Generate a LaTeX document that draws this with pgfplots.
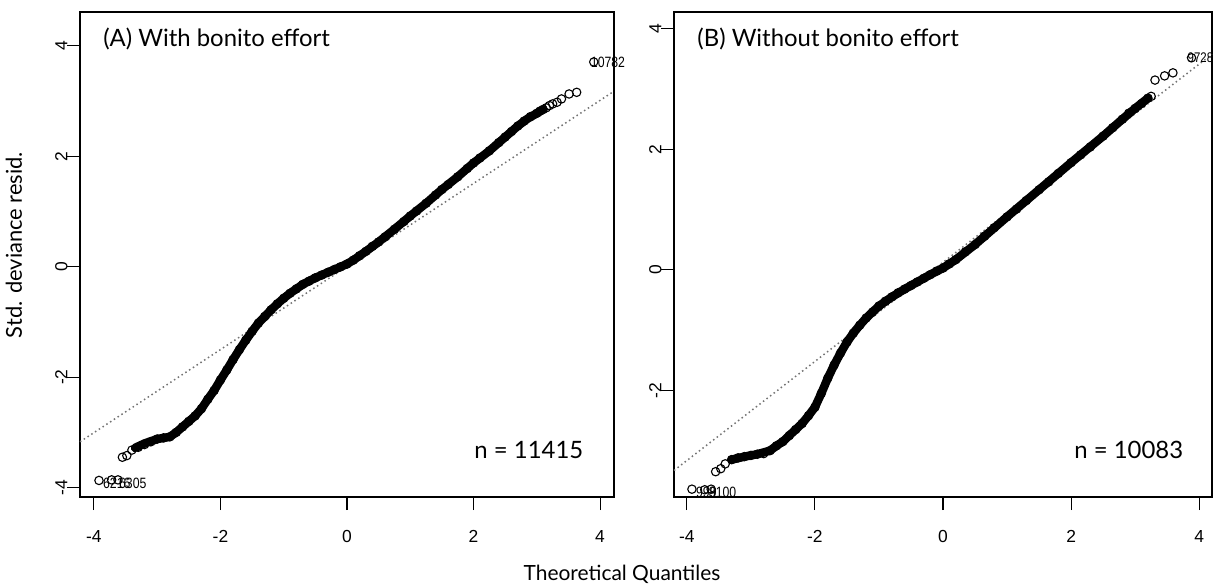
\documentclass[border=0pt]{standalone}
\usepackage{fontspec}
\setmainfont{Lato}
\newfontfamily\arialfont{Liberation Sans}
\newfontfamily\narrowfont[FakeStretch=0.82]{Liberation Sans}
\usepackage{pgfplots}
\pgfplotsset{compat=1.18}

\pgfplotsset{
  qqpanel/.style={
    scale only axis, width=534bp, height=485bp, anchor=south west,
    tick pos=left, tick align=outside, major tick length=13bp,
    axis line style={line width=1.3bp},
    tick style={line width=1.1bp, black},
    xtick={-4,-2,0,2,4}, xticklabels={-4,-2,0,2,4},
    ticklabel style={font=\arialfont\fontsize{17.5}{20}\selectfont},
    xticklabel shift=17bp,
    yticklabel style={rotate=90, anchor=south},
    yticklabel shift=-4bp,
    clip=false,
  },
  band/.style={black, line width=8.5bp, line join=round, line cap=round, no marks},
  pts/.style={only marks, mark=o, mark size=4.2bp, mark options={line width=1.1bp, black}},
  refline/.style={black!55, line width=1.5bp, dash pattern=on 1.5bp off 3bp, no marks},
}
\tikzset{
  idlab/.style={anchor=west, inner sep=0pt, font=\narrowfont\fontsize{15}{17}\selectfont},
  paneltxt/.style={font=\fontsize{24}{27}\selectfont},
}

\begin{document}
\begin{tikzpicture}
\useasboundingbox (0,0) rectangle (1215bp,588bp);

% (A) with bonito effort
\begin{axis}[qqpanel, at={(80bp,91bp)},
  xmin=-4.22, xmax=4.22, ymin=-4.17, ymax=4.615,
  ytick={-4,-2,0,2,4}, yticklabels={-4,-2,0,2,4}]
\addplot[refline] coordinates {(-4.22,-3.17) (4.22,3.18)};
\addplot[band] coordinates {
 (-3.35,-3.28) (-3.2,-3.2) (-3.0,-3.12) (-2.8,-3.08) (-2.7,-3.0) (-2.6,-2.9)
 (-2.5,-2.8) (-2.4,-2.7) (-2.3,-2.57) (-2.2,-2.4) (-2.1,-2.24) (-2.0,-2.05)
 (-1.9,-1.87) (-1.8,-1.68) (-1.7,-1.5) (-1.6,-1.33) (-1.5,-1.17) (-1.4,-1.02)
 (-1.3,-0.9) (-1.2,-0.78) (-1.1,-0.67) (-1.0,-0.57) (-0.9,-0.48) (-0.8,-0.4)
 (-0.7,-0.32) (-0.6,-0.26) (-0.5,-0.2) (-0.4,-0.15) (-0.3,-0.1) (-0.2,-0.05)
 (-0.1,0.0) (0,0.05) (0.1,0.12) (0.2,0.2) (0.3,0.28) (0.5,0.45) (0.75,0.68)
 (1.0,0.92) (1.25,1.15) (1.5,1.4) (1.75,1.63) (2.0,1.88) (2.25,2.1)
 (2.5,2.35) (2.7,2.55) (2.85,2.68) (3.0,2.78) (3.1,2.85)};
\addplot[pts] coordinates {
 (-3.92,-3.87) (-3.72,-3.86) (-3.62,-3.86) (-3.55,-3.45) (-3.48,-3.42)
 (-3.4,-3.32) (-3.3,-3.27) (-3.2,-3.22) (-3.1,-3.17) (-3.0,-3.12) (-2.9,-3.1)
 (-2.8,-3.08) (-2.7,-3.0) (-2.6,-2.9) (-2.5,-2.8) (-2.4,-2.7) (-2.3,-2.57)
 (-2.2,-2.4) (-2.1,-2.24) (-2.0,-2.05) (-1.9,-1.87) (-1.8,-1.68) (-1.7,-1.5)
 (-1.6,-1.33) (-1.5,-1.17) (-1.4,-1.02) (-1.3,-0.9) (-1.2,-0.78) (-1.1,-0.67)
 (-1.0,-0.57) (-0.9,-0.48) (-0.8,-0.4) (-0.7,-0.32) (-0.6,-0.26) (-0.5,-0.2)
 (-0.4,-0.15) (-0.3,-0.1) (-0.2,-0.05) (-0.1,0.0) (0,0.05) (0.1,0.12)
 (0.2,0.2) (0.3,0.28) (0.4,0.37) (0.5,0.45) (0.6,0.54) (0.75,0.68) (0.9,0.82)
 (1.0,0.92) (1.1,1.01) (1.25,1.15) (1.4,1.3) (1.5,1.4) (1.6,1.49) (1.75,1.63)
 (1.9,1.78) (2.0,1.88) (2.1,1.97) (2.25,2.1) (2.4,2.25) (2.5,2.35) (2.6,2.45)
 (2.7,2.55) (2.8,2.64) (2.9,2.72) (3.0,2.78) (3.05,2.82) (3.1,2.85)
 (3.15,2.88) (3.2,2.92) (3.25,2.95) (3.32,2.98) (3.39,3.04) (3.51,3.13)
 (3.63,3.16) (3.9,3.71)};
\node[paneltxt, anchor=west] at (rel axis cs:0.037,0.944) {(A) With bonito effort};
\node[paneltxt, anchor=east] at (rel axis cs:0.949,0.097) {n = 11415};
\node[idlab] at (axis cs:3.9,3.71) {\hspace{-3bp}10782};
\node[idlab] at (axis cs:-3.92,-3.92) {\hspace{4bp}6216};
\node[idlab] at (axis cs:-3.62,-3.92) {\hspace{1bp}6305};
\end{axis}

% (B) without bonito effort
\begin{axis}[qqpanel, at={(674bp,91bp)}, width=538bp,
  xmin=-4.2, xmax=4.2, ymin=-3.77, ymax=4.28,
  ytick={-2,0,2,4}, yticklabels={-2,0,2,4}]
\addplot[refline] coordinates {(-4.2,-3.33) (4.2,3.58)};
\addplot[band] coordinates {
 (-3.3,-3.15) (-3.1,-3.1) (-2.9,-3.06) (-2.7,-3.0) (-2.6,-2.92) (-2.5,-2.85)
 (-2.4,-2.75) (-2.3,-2.65) (-2.2,-2.55) (-2.1,-2.42) (-2.0,-2.28) (-1.9,-2.05)
 (-1.8,-1.8) (-1.7,-1.58) (-1.6,-1.38) (-1.5,-1.2) (-1.4,-1.05) (-1.3,-0.92)
 (-1.2,-0.8) (-1.1,-0.7) (-1.0,-0.6) (-0.8,-0.45) (-0.6,-0.32) (-0.4,-0.2)
 (-0.2,-0.08) (0,0.03) (0.2,0.17) (0.5,0.42) (1.0,0.88) (1.5,1.33) (2.0,1.78)
 (2.5,2.22) (2.8,2.5) (3.0,2.68) (3.2,2.85)};
\addplot[pts] coordinates {
 (-3.92,-3.64) (-3.72,-3.65) (-3.62,-3.64) (-3.55,-3.35) (-3.47,-3.3)
 (-3.4,-3.22) (-3.3,-3.15) (-3.2,-3.12) (-3.1,-3.1) (-3.0,-3.08) (-2.9,-3.06)
 (-2.8,-3.05) (-2.7,-3.0) (-2.6,-2.92) (-2.5,-2.85) (-2.4,-2.75) (-2.3,-2.65)
 (-2.2,-2.55) (-2.1,-2.42) (-2.0,-2.28) (-1.9,-2.05) (-1.8,-1.8) (-1.7,-1.58)
 (-1.6,-1.38) (-1.5,-1.2) (-1.4,-1.05) (-1.3,-0.92) (-1.2,-0.8) (-1.1,-0.7)
 (-1.0,-0.6) (-0.9,-0.52) (-0.8,-0.45) (-0.7,-0.38) (-0.6,-0.32) (-0.5,-0.26)
 (-0.4,-0.2) (-0.3,-0.14) (-0.2,-0.08) (-0.1,-0.02) (0,0.03) (0.1,0.1)
 (0.2,0.17) (0.35,0.3) (0.5,0.42) (0.65,0.56) (0.8,0.7) (1.0,0.88) (1.15,1.01)
 (1.3,1.15) (1.5,1.33) (1.65,1.46) (1.8,1.6) (2.0,1.78) (2.15,1.91)
 (2.3,2.04) (2.5,2.22) (2.65,2.36) (2.8,2.5) (2.9,2.6) (3.0,2.68)
 (3.1,2.76) (3.2,2.85) (3.25,2.88) (3.31,3.15) (3.46,3.22) (3.59,3.27)
 (3.88,3.52)};
\node[paneltxt, anchor=west] at (rel axis cs:0.037,0.944) {(B) Without bonito effort};
\node[paneltxt, anchor=east] at (rel axis cs:0.953,0.097) {n = 10083};
\node[idlab, font=\narrowfont\fontsize{14}{16}\selectfont] at (axis cs:3.88,3.52) {\hspace{-4bp}9728};
\node[idlab] at (axis cs:-3.92,-3.7) {\hspace{4bp}999};
\node[idlab] at (axis cs:-3.72,-3.7) {\hspace{4bp}8100};
\end{axis}

\node[rotate=90, font=\fontsize{22}{25}\selectfont] at (14bp,343bp) {Std. deviance resid.};
\node[font=\fontsize{21}{24}\selectfont] at (622bp,14bp) {Theoretical Quantiles};
\end{tikzpicture}
\end{document}
